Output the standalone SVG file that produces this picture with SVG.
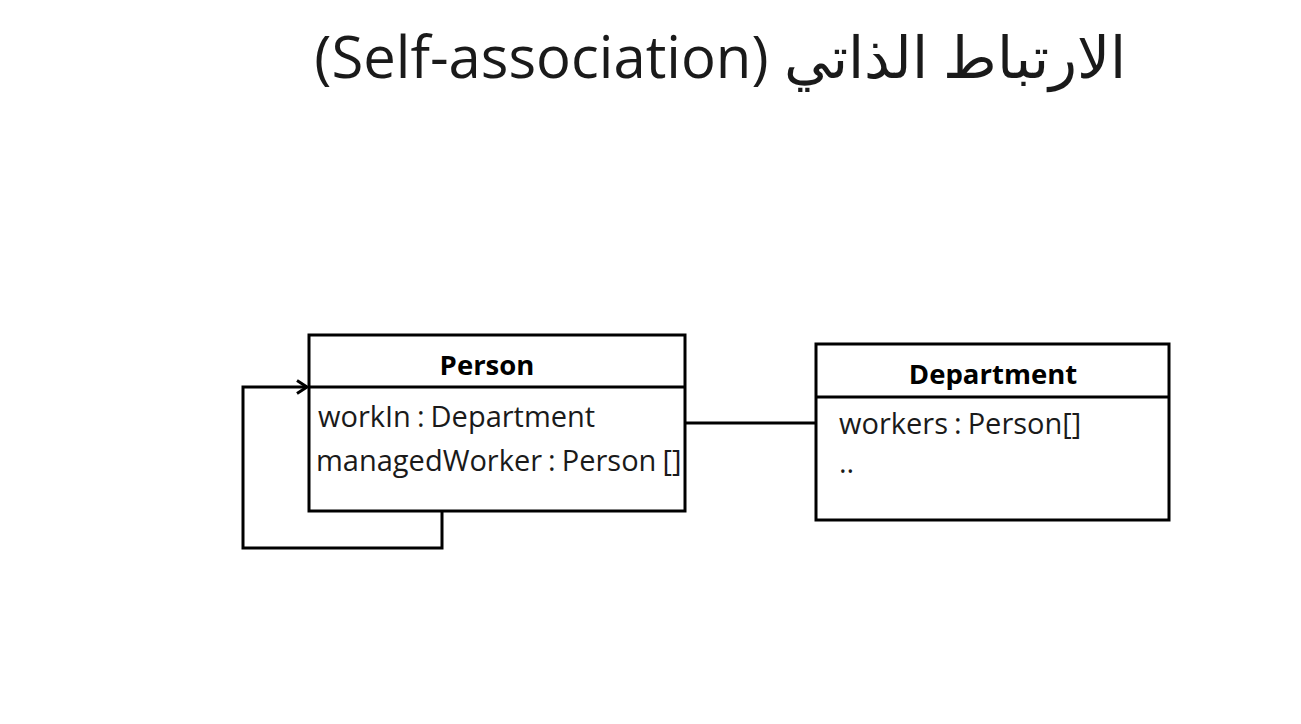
<svg xmlns="http://www.w3.org/2000/svg" width="1301" height="724" viewBox="0 0 1301 724">
<style>
.box{fill:#fff;stroke:#000;stroke-width:3}
.ln{fill:none;stroke:#000;stroke-width:3}
.t{font-family:"Open Sans","Noto Sans",sans-serif;fill:#1a1a1a}
.h{font-family:"Open Sans","Noto Sans",sans-serif;font-weight:bold;font-size:27.5px;fill:#000}
.a{font-size:29px;word-spacing:-1.5px}
</style>
<defs>
<marker id="arr" markerWidth="16" markerHeight="16" refX="13" refY="8" orient="auto" markerUnits="userSpaceOnUse">
<path d="M3,1.5 L13,8 L3,14.5" fill="none" stroke="#000" stroke-width="3"/>
</marker>
</defs>
<rect width="1301" height="724" fill="#fff"/>
<text class="t" x="720" y="78" font-size="58" text-anchor="middle" direction="rtl">الارتباط الذاتي (Self-association)</text>
<g id="connectors">
<path class="ln" d="M442,511 V548 H243 V387 H307" marker-end="url(#arr)"/>
<line class="ln" x1="685" y1="423" x2="816" y2="423"/>
</g>
<g id="person">
<rect class="box" x="309" y="335" width="376" height="176"/>
<line class="ln" x1="309" y1="387" x2="685" y2="387"/>
<text class="h" x="487" y="375" text-anchor="middle">Person</text>
<text class="t a" x="318" y="427">workIn : Department</text>
<text class="t a" x="316" y="471">managedWorker : Person []</text>
</g>
<g id="department">
<rect class="box" x="816" y="344" width="353" height="176"/>
<line class="ln" x1="816" y1="397" x2="1169" y2="397"/>
<text class="h" x="993" y="384" text-anchor="middle">Department</text>
<text class="t a" x="839" y="434">workers : Person[]</text>
<text class="t a" x="839" y="473">..</text>
</g>
</svg>
